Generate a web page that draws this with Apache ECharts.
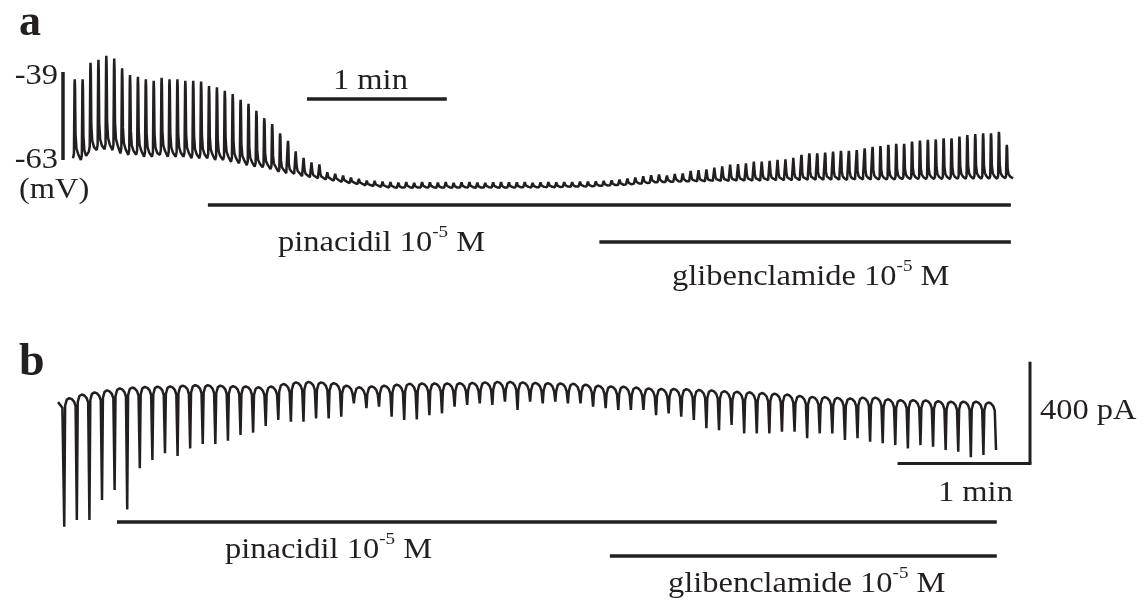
<!DOCTYPE html>
<html><head><meta charset="utf-8">
<script src="https://cdn.jsdelivr.net/npm/echarts@6/dist/echarts.min.js"></script>
<style>html,body{margin:0;background:#fff}#c{width:1147px;height:603px}</style>
</head><body><div id="c"></div>
<script>
// ---------- Panel a: membrane potential (mV), one peak / trough per slow wave ----------
const peakA = [
  -41.0, -41.0, -36.5, -35.7, -34.6, -35.3, -38.0, -39.8, -40.3, -41.0, -41.4, -40.6, -41.0, -41.0, -41.4, -41.4,
  -41.6, -42.8, -43.2, -44.1, -45.0, -46.6, -47.7, -49.6, -51.6, -53.2, -55.7, -57.8, -60.1, -62.0, -63.3, -63.9,
  -66.2, -66.6, -67.1, -67.7, -68.0, -68.5, -68.6, -68.8,
  -68.9, -69.0, -68.9, -69.1, -68.9, -69.0, -69.0, -68.9, -69.1, -69.0, -68.9, -69.0, -69.1, -69.0,
  -68.9, -69.0, -69.0, -68.9, -69.1, -69.0, -68.9, -69.0, -68.9, -68.9, -68.8, -68.8, -68.7,
  -68.6, -68.4, -68.2, -67.9, -67.6, -67.3, -67.0, -66.8,
  -67.1, -66.6, -66.5, -65.7, -65.5, -65.3, -64.8, -64.4, -63.9, -63.7, -63.5, -63.0, -63.0, -62.8, -62.5,
  -62.3, -61.9, -61.6, -61.2, -61.2, -61.0, -60.7, -60.5, -60.5, -60.3, -59.8, -59.4, -59.2, -58.9, -58.6,
  -58.6, -58.0, -57.7, -57.5, -57.4, -57.1, -57.1, -56.6, -56.2, -55.9, -55.7, -55.7, -55.3, -58.9
];
const troughA = [
  -62.5, -63.0, -60.7, -60.3, -60.1, -60.3, -61.2, -61.6, -61.6, -62.1, -62.1, -61.6, -62.1, -62.1, -62.1, -62.5,
  -62.5, -62.5, -63.0, -63.0, -63.5, -63.9, -64.4, -64.8, -65.0, -65.5, -66.2, -66.6, -66.8, -67.4, -67.7, -68.0,
  -68.3, -68.6, -69.0, -69.3, -69.6, -69.9, -70.1, -70.3,
  -70.5, -70.6, -70.5, -70.6, -70.5, -70.5, -70.6, -70.5, -70.6, -70.5, -70.5, -70.6, -70.5, -70.5,
  -70.6, -70.5, -70.5, -70.4, -70.5, -70.4, -70.4, -70.4, -70.3, -70.3, -70.2, -70.2, -70.1,
  -70.0, -69.9, -69.8, -69.7, -69.5, -69.4, -69.2, -69.1,
  -69.0, -68.9, -68.9, -68.8, -68.8, -68.8, -68.7, -68.7, -68.7, -68.6, -68.6, -68.6, -68.6, -68.5, -68.5,
  -68.5, -68.5, -68.5, -68.4, -68.4, -68.4, -68.4, -68.4, -68.4, -68.3, -68.3, -68.3, -68.3, -68.3, -68.3,
  -68.2, -68.2, -68.2, -68.2, -68.2, -68.2, -68.2, -68.1, -68.1, -68.1, -68.1, -68.1, -68.1, -68.0
];
const periodA = 3.39;               // s per slow wave
const pinacidilA = [57.9, 402.5];   // s
const glibenclamideA = [225.9, 402.5];
const scaleBarA = [-39, -63];       // mV
const scaleMinutes = 1;

// ---------- Panel b: membrane current (pA), arch level and inward-spike minimum per cycle ----------
const topB = [
  -79, -63, -51, -46, -35, -31, -28, -26, -26, -24, -20, -20, -20, -24, -24, -26, -31, -20, -11, -7, -7, -11, -13, -31,
  -26, -24, -20, -16, -13, -13, -13, -13, -11, -11, -7, -7, -7, -11, -11, -13, -13, -16, -20, -24, -26, -26, -33, -33, -37,
  -33, -39, -39, -42, -46, -46, -50, -52, -55, -59, -66, -66, -68, -72, -72, -66, -72, -79, -79, -79, -81, -85, -85, -85, -85, -92
];
const troughB = [
  -577, -551, -551, -472, -433, -509, -347, -315, -288, -299, -269, -252, -252, -239, -216, -207, -181, -157, -164, -164, -151, -151, -144, -92,
  -111, -105, -144, -157, -155, -138, -131, -105, -98, -92, -98, -85, -118, -85, -92, -85, -92, -92, -105, -111, -118, -118, -118, -138, -131,
  -144, -157, -190, -197, -177, -210, -210, -210, -203, -203, -229, -210, -210, -236, -229, -243, -249, -256, -269, -256, -262, -275, -282, -304, -295, -275
];
const periodB = 5.64;              // s per cycle
const firstSpikeB = 2.8;           // s
const pinacidilB = [26.4, 420.5];
const glibenclamideB = [247.2, 420.5];
const scaleBarB = 400;             // pA

// ---------- build traces ----------
function traceA() {
  const pts = [], n = peakA.length, P = periodA;
  for (let i = 0; i < n; i++) {
    const t = i * P, lo = troughA[i], hi = peakA[i], A = hi - lo;
    pts.push([t, lo]);
    pts.push([t + 0.12 * P, lo + 0.06 * A]);
    pts.push([t + 0.19 * P, hi - 0.08 * A]);
    pts.push([t + 0.22 * P, hi]);
    pts.push([t + 0.26 * P, hi - 0.12 * A]);
    pts.push([t + 0.32 * P, lo + 0.3 * A]);
    pts.push([t + 0.44 * P, lo + 0.12 * A]);
    pts.push([t + 0.66 * P, lo + 0.05 * A]);
  }
  pts.push([n * P, troughA[n - 1]]);
  return pts;
}
function traceB() {
  const pts = [], n = troughB.length, P = periodB;
  pts.push([0, topB[0] - 8]);
  pts.push([firstSpikeB * 0.7, topB[0] - 30]);
  for (let i = 0; i < n; i++) {
    const t = firstSpikeB + i * P;
    pts.push([t, troughB[i]]);
    if (i === n - 1) break;
    const top = (topB[i] + topB[i + 1]) / 2;
    pts.push([t + 0.07 * P, top - 30]);
    pts.push([t + 0.2 * P, top - 6]);
    pts.push([t + 0.4 * P, top]);
    pts.push([t + 0.6 * P, top - 4]);
    pts.push([t + 0.78 * P, top - 14]);
    pts.push([t + 0.9 * P, top - 32]);
  }
  return pts;
}

const INK = '#231f20';
const chart = echarts.init(document.getElementById('c'), null, {renderer: 'canvas'});
const hidden = {axisLine: {show: false}, axisTick: {show: false}, axisLabel: {show: false}, splitLine: {show: false}};
const maxA = peakA.length * periodA;
chart.setOption({
  animation: false,
  grid: [
    {left: 73, top: 50, width: 940, height: 150},
    {left: 58, top: 360, width: 960, height: 180}
  ],
  xAxis: [
    Object.assign({type: 'value', gridIndex: 0, min: 0, max: maxA}, hidden),
    Object.assign({type: 'value', gridIndex: 1, min: 0, max: 430}, hidden)
  ],
  yAxis: [
    Object.assign({type: 'value', gridIndex: 0, min: -73.909, max: -33}, hidden),
    Object.assign({type: 'value', gridIndex: 1, min: -629.3, max: 78.7}, hidden)
  ],
  series: [
    {type: 'line', xAxisIndex: 0, yAxisIndex: 0, data: traceA(), showSymbol: false, symbol: 'none',
     lineStyle: {color: INK, width: 2.5}},
    {type: 'line', xAxisIndex: 1, yAxisIndex: 1, data: traceB(), showSymbol: false, symbol: 'none',
     lineStyle: {color: INK, width: 2.5}}
  ]
});

function px(g, t, v) { return chart.convertToPixel({gridIndex: g}, [t, v]); }
function hbar(g, t0, t1, y, w) {
  const a = px(g, t0, 0)[0], b = px(g, t1, 0)[0];
  return {type: 'line', shape: {x1: a, y1: y, x2: b, y2: y}, style: {stroke: INK, lineWidth: w || 3.5}};
}
const FONT = 'Liberation Serif';
const FS = 29, SX = 1.12;
function txt(x, y, text, align, size, bold, sx) {
  return {type: 'text', x: x, y: y, scaleX: sx || SX,
    style: {text: text, x: 0, y: 0, fill: INK, textAlign: align || 'left', textVerticalAlign: 'middle',
      fontFamily: FONT, fontSize: size || FS, fontWeight: bold ? 'bold' : 'normal'}};
}
function drug(x, y, name) {
  return {type: 'text', x: x, y: y, scaleX: SX,
    style: {text: '{n|' + name + ' 10}{s|-5}{n| M}', x: 0, y: 0, fill: INK, textAlign: 'left', textVerticalAlign: 'middle',
      rich: {
        n: {fontFamily: FONT, fontSize: FS, lineHeight: 34, fill: INK, verticalAlign: 'bottom'},
        s: {fontFamily: FONT, fontSize: 17, lineHeight: 18, fill: INK, verticalAlign: 'top'}
      }}};
}

// scale bars
const ya0 = px(0, 0, scaleBarA[0])[1], ya1 = px(0, 0, scaleBarA[1])[1];
const minA = px(0, scaleMinutes * 60, 0)[0] - px(0, 0, 0)[0];
const yb0 = px(1, 0, 72)[1], yb1 = px(1, 0, 72 - scaleBarB)[1];
const minB = px(1, scaleMinutes * 60, 0)[0] - px(1, 0, 0)[0];

chart.setOption({graphic: [
  {type: 'line', shape: {x1: 63, y1: ya0, x2: 63, y2: ya1}, style: {stroke: INK, lineWidth: 3.5}},
  {type: 'line', shape: {x1: 307, y1: 99, x2: 307 + minA, y2: 99}, style: {stroke: INK, lineWidth: 3.5}},
  hbar(0, pinacidilA[0], pinacidilA[1], 205),
  hbar(0, glibenclamideA[0], glibenclamideA[1], 242),
  hbar(1, pinacidilB[0], pinacidilB[1], 522),
  hbar(1, glibenclamideB[0], glibenclamideB[1], 556),
  {type: 'line', shape: {x1: 1030, y1: yb0, x2: 1030, y2: yb1}, style: {stroke: INK, lineWidth: 3}},
  {type: 'line', shape: {x1: 1031.5 - minB, y1: yb1, x2: 1031.5, y2: yb1}, style: {stroke: INK, lineWidth: 3}},
  txt(19, 24, 'a', 'left', 44, true, 1.0),
  txt(19, 363, 'b', 'left', 46, true, 1.0),
  txt(58, 76, '-39', 'right'),
  txt(58, 160, '-63', 'right'),
  txt(19, 190, '(mV)', 'left'),
  txt(333, 81, '1 min', 'left'),
  txt(1040, 411, '400 pA', 'left'),
  txt(938, 493, '1 min', 'left'),
  drug(278, 241, 'pinacidil'),
  drug(672, 275, 'glibenclamide'),
  drug(225, 548, 'pinacidil'),
  drug(668, 582, 'glibenclamide')
]});
</script>
</body></html>
